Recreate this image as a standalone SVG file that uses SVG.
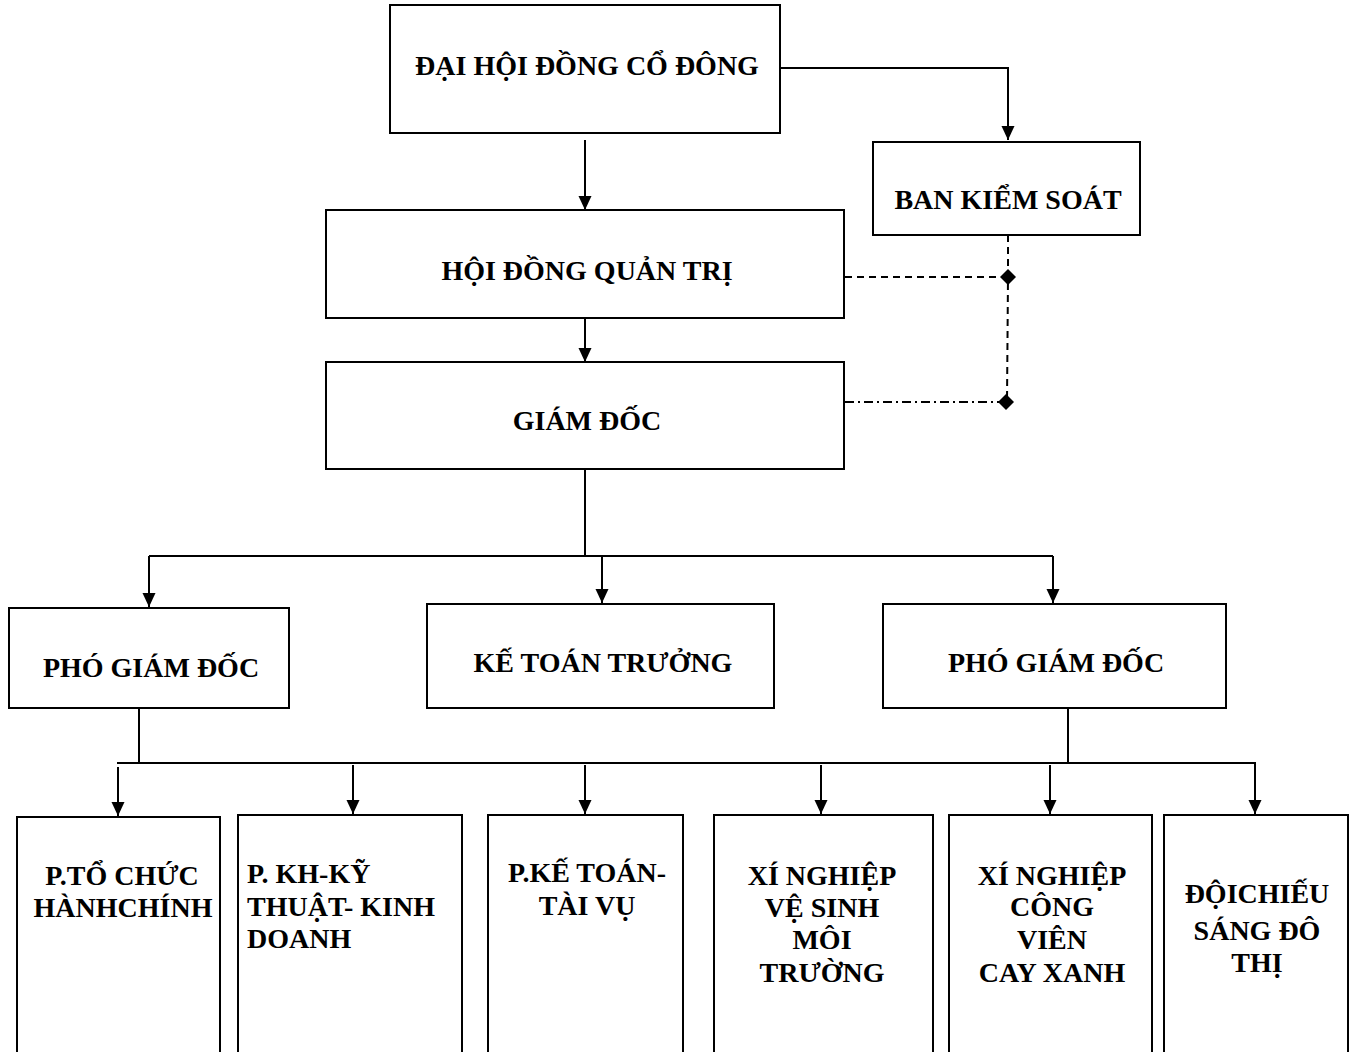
<svg xmlns="http://www.w3.org/2000/svg" width="1357" height="1052" viewBox="0 0 1357 1052">
<style>
.box{fill:#fff;stroke:#000;stroke-width:2}
.t{font-family:"Liberation Serif","Times New Roman",serif;font-weight:bold;font-size:28px;fill:#000;text-anchor:middle}
.tl{text-anchor:start}
.ln{fill:none;stroke:#000;stroke-width:2}
.dash{fill:none;stroke:#000;stroke-width:2;stroke-dasharray:7,5}
.dashdot{fill:none;stroke:#000;stroke-width:2;stroke-dasharray:9,4,2,4}
</style>
<defs>
<marker id="arr" markerUnits="userSpaceOnUse" markerWidth="14" markerHeight="14" refX="14" refY="6.5" orient="auto">
<path d="M0,0 L14,6.5 L0,13 z" fill="#000"/>
</marker>
</defs>
<rect width="1357" height="1052" fill="#fff"/>
<g id="connectors">
<path class="ln" d="M780,68 H1008 V140" marker-end="url(#arr)"/>
<path class="ln" d="M585,140 V210" marker-end="url(#arr)"/>
<path class="ln" d="M585,318 V362" marker-end="url(#arr)"/>
<path class="ln" d="M585,469 V556"/>
<path class="ln" d="M149,556 H1053"/>
<path class="ln" d="M149,556 V607" marker-end="url(#arr)"/>
<path class="ln" d="M602,555 V603" marker-end="url(#arr)"/>
<path class="ln" d="M1053,556 V603" marker-end="url(#arr)"/>
<path class="ln" d="M139,708 V763"/>
<path class="ln" d="M1068,708 V763"/>
<path class="ln" d="M117,763 H1256"/>
<path class="ln" d="M118,767 V816" marker-end="url(#arr)"/>
<path class="ln" d="M353,765 V814" marker-end="url(#arr)"/>
<path class="ln" d="M585,765 V814" marker-end="url(#arr)"/>
<path class="ln" d="M821,765 V814" marker-end="url(#arr)"/>
<path class="ln" d="M1050,765 V814" marker-end="url(#arr)"/>
<path class="ln" d="M1255,763 V814" marker-end="url(#arr)"/>
<path class="dash" d="M1008,235 V277 L1007,402"/>
<path class="dash" d="M845,277 H1008"/>
<path class="dashdot" d="M845,402 H1006"/>
<path d="M1008,269 L1016,277 L1008,285 L1000,277 z" fill="#000"/>
<path d="M1006,394 L1014,402 L1006,410 L998,402 z" fill="#000"/>
</g>
<g id="dhdcd">
<rect class="box" x="390" y="5" width="390" height="128"/>
<text class="t" x="587" y="75">ĐẠI HỘI ĐỒNG CỔ ĐÔNG</text>
</g>
<g id="bks">
<rect class="box" x="873" y="142" width="267" height="93"/>
<text class="t" x="1008" y="209">BAN KIỂM SOÁT</text>
</g>
<g id="hdqt">
<rect class="box" x="326" y="210" width="518" height="108"/>
<text class="t" x="587" y="280">HỘI ĐỒNG QUẢN TRỊ</text>
</g>
<g id="gd">
<rect class="box" x="326" y="362" width="518" height="107"/>
<text class="t" x="587" y="430">GIÁM ĐỐC</text>
</g>
<g id="pgd1">
<rect class="box" x="9" y="608" width="280" height="100"/>
<text class="t" x="151" y="677">PHÓ GIÁM ĐỐC</text>
</g>
<g id="ktt">
<rect class="box" x="427" y="604" width="347" height="104"/>
<text class="t" x="603" y="672">KẾ TOÁN TRƯỞNG</text>
</g>
<g id="pgd2">
<rect class="box" x="883" y="604" width="343" height="104"/>
<text class="t" x="1056" y="672">PHÓ GIÁM ĐỐC</text>
</g>
<g id="tchc">
<rect class="box" x="17" y="817" width="203" height="245"/>
<text class="t" x="122" y="885">P.TỔ CHỨC</text>
<text class="t" x="123" y="917">HÀNHCHÍNH</text>
</g>
<g id="khkt">
<rect class="box" x="238" y="815" width="224" height="247"/>
<text class="t tl" x="247" y="883">P. KH-KỸ</text>
<text class="t tl" x="247" y="916">THUẬT- KINH</text>
<text class="t tl" x="247" y="948">DOANH</text>
</g>
<g id="ktvt">
<rect class="box" x="488" y="815" width="195" height="247"/>
<text class="t" x="587" y="882">P.KẾ TOÁN-</text>
<text class="t" x="587" y="915">TÀI VỤ</text>
</g>
<g id="xnvs">
<rect class="box" x="714" y="815" width="219" height="247"/>
<text class="t" x="822" y="885">XÍ NGHIỆP</text>
<text class="t" x="822" y="917">VỆ SINH</text>
<text class="t" x="822" y="949">MÔI</text>
<text class="t" x="822" y="982">TRƯỜNG</text>
</g>
<g id="xncv">
<rect class="box" x="949" y="815" width="203" height="247"/>
<text class="t" x="1052" y="885">XÍ NGHIỆP</text>
<text class="t" x="1052" y="916">CÔNG</text>
<text class="t" x="1052" y="949">VIÊN</text>
<text class="t" x="1052" y="982">CAY XANH</text>
</g>
<g id="dcs">
<rect class="box" x="1164" y="815" width="184" height="247"/>
<text class="t" x="1257" y="903">ĐỘICHIẾU</text>
<text class="t" x="1257" y="940">SÁNG ĐÔ</text>
<text class="t" x="1257" y="972">THỊ</text>
</g>
</svg>
